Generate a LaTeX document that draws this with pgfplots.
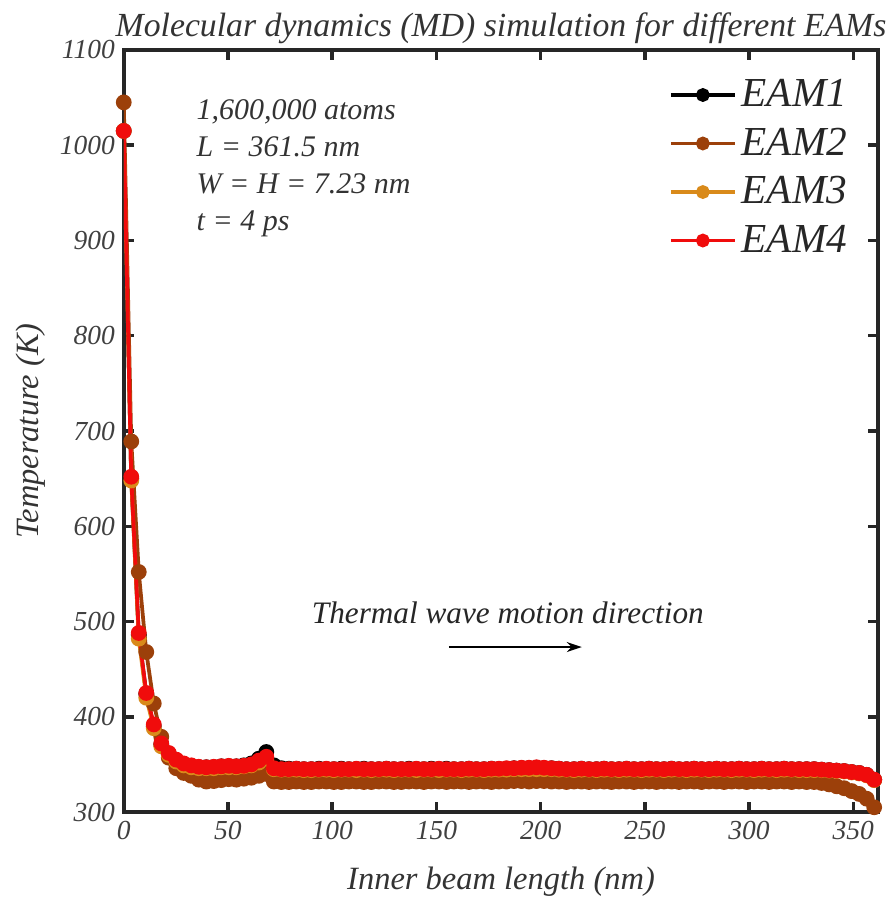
\documentclass[border=0pt]{standalone}
\usepackage{pgfplots}
\pgfplotsset{compat=1.18}
\usepackage{pgfplotstable}
\usepackage{fontspec}
\setmainfont{Liberation Serif}
\usetikzlibrary{arrows.meta}

\definecolor{eamone}{RGB}{0,0,0}
\definecolor{eamtwo}{RGB}{156,64,10}
\definecolor{eamthree}{RGB}{217,138,26}
\definecolor{eamfour}{RGB}{240,12,12}

% x (nm), EAM1, EAM2, EAM3, EAM4 (K)
\pgfplotstableread{
x     a      b      c      d
0.0   1015   1045   1015   1015
3.6   650    689    648    652
7.2   486    552    482    488
10.8  424    468    420    425
14.4  390    414    388    392
18.0  371    379    369    372
21.6  361    357    360    362
25.2  354    346    353    355
28.8  350    341    349    351
32.4  348    338    347    349
36.0  347    334    346    347.5
39.6  347    332    346    347
43.2  347    332.5  346    347.5
46.8  348    333.5  347    348
50.4  348    334.5  347    348.5
54.0  348    334    347    348
57.6  349    335    348    348.5
61.2  351    336    349    350
64.8  356    338    352    354
68.4  363    340    356    358
72.0  349    332    345    346
75.6  346    331.5  344.5  345
79.2  345.5  331.5  344.5  345
82.8  345.5  332    344.5  345.5
86.4  345    331.5  344    345
90.0  345    331.5  344    345
93.6  345.5  332    344.5  345
97.2  345    332    344.5  345.5
100.8 345    331.5  344    345
104.4 345.5  331.5  344.5  345
108.0 345    332    344.5  345
111.6 345    332    344    345.5
115.2 345.5  331.5  344.5  345
118.8 345    331.5  344    345
122.4 345    332    344.5  345
126.0 345.5  332    344.5  345.5
129.6 345    331.5  344    345
133.2 345    331.5  344.5  345
136.8 345.5  332    344.5  345
140.4 345    332    344    345.5
144.0 345    331.5  344.5  345
147.6 345.5  332    344.5  345
151.2 345    332    344    345.5
154.8 345.5  331.5  344.5  345
158.4 345    332    344.5  345
162.0 345    332    344    345
165.6 345.5  331.5  344.5  345.5
169.2 345    332    344.5  345
172.8 345    332    344    345
176.4 345.5  331.5  344.5  345.5
180.0 345    332    344.5  345.5
183.6 345.5  332    344.5  346
187.2 346    332.5  345    346
190.8 346    332.5  345    346.5
194.4 346    332    345    346.5
198.0 346.5  332.5  345    347
201.6 346    332.5  345    346.5
205.2 346    332    345    346
208.8 345.5  332    344.5  345.5
212.4 345    331.5  344.5  345
216.0 345    332    344    345
219.6 345.5  332    344.5  345.5
223.2 345    331.5  344.5  345
226.8 345    332    344    345
230.4 345.5  332    344.5  345.5
234.0 345    331.5  344.5  345
237.6 345    332    344    345
241.2 345.5  332    344.5  345.5
244.8 345    331.5  344.5  345
248.4 345    332    344    345
252.0 345.5  332    344.5  345.5
255.6 345    331.5  344.5  345
259.2 345    332    344    345
262.8 345.5  332    344.5  345.5
266.4 345    331.5  344.5  345
270.0 345    332    344    345
273.6 345.5  332    344.5  345.5
277.2 345    331.5  344.5  345
280.8 345    332    344    345
284.4 345.5  332    344.5  345.5
288.0 345    331.5  344.5  345
291.6 345    332    344    345
295.2 345.5  332    344.5  345.5
298.8 345    331.5  344.5  345
302.4 345    332    344    345
306.0 345.5  332    344.5  345.5
309.6 345    331.5  344.5  345
313.2 345    332    344    345
316.8 345.5  332    344.5  345.5
320.4 345    331.5  344.5  345
324.0 345    332    344    345
327.6 345    331.5  344    345
331.2 345    331.5  344    345
334.8 344.5  330.5  344    344.5
338.4 344    329    343.5  344
342.0 343.5  327    343    343.5
345.6 343    325    342.5  343
349.2 342    322    341.5  342
352.8 341    319    340.5  341
356.4 339    314    338.5  339
360.0 334    305    333.5  334
}\mdtable

\begin{document}
\begin{tikzpicture}
\begin{axis}[
    scale only axis,
    width=302pt,
    height=305pt,
    xmin=0, xmax=362,
    ymin=300, ymax=1100,
    xtick={0,50,...,350},
    ytick={300,400,...,1100},
    tick align=inside,
    major tick length=4pt,
    tick style={line width=1.4pt, black!85},
    axis line style={line width=1.6pt, black!85},
    minor tick num=0,
    /pgf/number format/assume math mode=true,
    /pgf/number format/1000 sep={},
    ticklabel style={font=\fontsize{11}{13}\selectfont\itshape, text=black!75},
    xlabel={Inner beam length (nm)},
    ylabel={Temperature (K)},
    label style={font=\fontsize{13}{15}\selectfont\itshape, text=black!80},
    xlabel style={yshift=-4pt},
    ylabel style={yshift=-1pt},
    title={Molecular dynamics (MD) simulation for different EAMs},
    title style={font=\fontsize{13.5}{16}\selectfont\itshape, text=black!80, yshift=-7pt},
    every axis plot/.append style={line width=1.5pt, mark=*, mark size=2.4pt},
    legend style={at={(rel axis cs:0.712,0.975)}, anchor=north west, draw=none, fill=none,
        font=\fontsize{16.5}{19}\selectfont\itshape, row sep=3pt, text=black!85},
    legend cell align=left,
    legend image code/.code={
        \draw[#1, mark size=2pt, mark repeat=2, mark phase=2]
            plot coordinates {(0cm,0cm) (0.45cm,0cm) (0.9cm,0cm)};
    },
    clip=true,
]
\addplot[color=eamone] table[x=x, y=a] {\mdtable};
\addlegendentry{EAM1}
\addplot[color=eamtwo] table[x=x, y=b] {\mdtable};
\addlegendentry{EAM2}
\addplot[color=eamthree] table[x=x, y=c] {\mdtable};
\addlegendentry{EAM3}
\addplot[color=eamfour] table[x=x, y=d] {\mdtable};
\addlegendentry{EAM4}

\node[anchor=north west, align=left, font=\fontsize{12}{14.8}\selectfont\itshape, text=black!80]
    at (rel axis cs:0.085,0.947)
    {1,600,000 atoms\\ L = 361.5 nm\\ W = H = 7.23 nm\\ t = 4 ps};
\node[font=\fontsize{12.5}{15}\selectfont\itshape, text=black!85]
    at (rel axis cs:0.509,0.262) {Thermal wave motion direction};
\draw[-{Stealth[length=6pt, width=4pt]}, line width=0.7pt]
    (rel axis cs:0.431,0.2165) -- (rel axis cs:0.607,0.2165);

\coordinate (bbSW) at (rel axis cs:-0.164,-0.1115);
\coordinate (bbNE) at (rel axis cs:1.021,1.0656);
\end{axis}
\pgfresetboundingbox
\path (bbSW) rectangle (bbNE);
\end{tikzpicture}
\end{document}
